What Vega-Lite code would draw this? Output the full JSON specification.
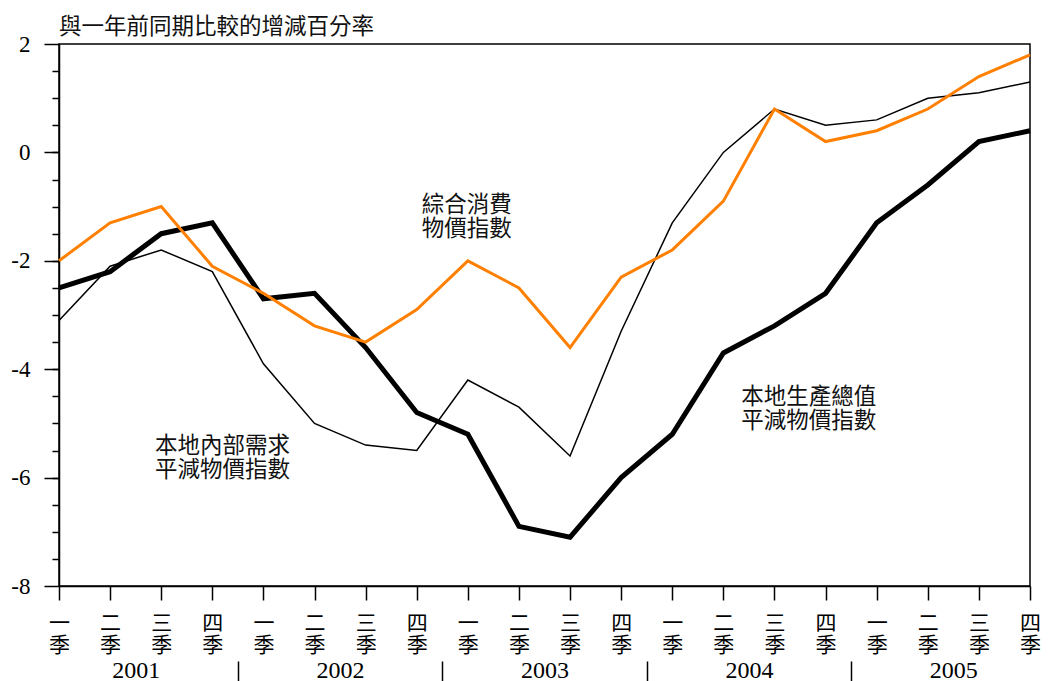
{
  "$schema": "https://vega.github.io/schema/vega-lite/v6.json",
  "width": 971,
  "height": 542,
  "autosize": "none",
  "padding": {"left": 59, "top": 44, "right": 22, "bottom": 95},
  "background": "white",
  "config": {
    "view": {"stroke": "black", "strokeWidth": 1.5},
    "axis": {"grid": false, "title": null, "domainColor": "black", "tickColor": "black", "labelColor": "black", "domainWidth": 1.5, "tickWidth": 1.5}
  },
  "title": {"text": "與一年前同期比較的增減百分率", "anchor": "start", "frame": "group", "font": "Noto Sans CJK TC", "fontSize": 22.5, "fontWeight": "normal", "color": "#111", "offset": -5},
  "datasets": {
    "series": [
      {"q": 0, "s": "domestic", "v": -3.1}, {"q": 1, "s": "domestic", "v": -2.1}, {"q": 2, "s": "domestic", "v": -1.8}, {"q": 3, "s": "domestic", "v": -2.2},
      {"q": 4, "s": "domestic", "v": -3.9}, {"q": 5, "s": "domestic", "v": -5.0}, {"q": 6, "s": "domestic", "v": -5.4}, {"q": 7, "s": "domestic", "v": -5.5},
      {"q": 8, "s": "domestic", "v": -4.2}, {"q": 9, "s": "domestic", "v": -4.7}, {"q": 10, "s": "domestic", "v": -5.6}, {"q": 11, "s": "domestic", "v": -3.3},
      {"q": 12, "s": "domestic", "v": -1.3}, {"q": 13, "s": "domestic", "v": 0.0}, {"q": 14, "s": "domestic", "v": 0.8}, {"q": 15, "s": "domestic", "v": 0.5},
      {"q": 16, "s": "domestic", "v": 0.6}, {"q": 17, "s": "domestic", "v": 1.0}, {"q": 18, "s": "domestic", "v": 1.1}, {"q": 19, "s": "domestic", "v": 1.3},
      {"q": 0, "s": "gdp", "v": -2.5}, {"q": 1, "s": "gdp", "v": -2.2}, {"q": 2, "s": "gdp", "v": -1.5}, {"q": 3, "s": "gdp", "v": -1.3},
      {"q": 4, "s": "gdp", "v": -2.7}, {"q": 5, "s": "gdp", "v": -2.6}, {"q": 6, "s": "gdp", "v": -3.6}, {"q": 7, "s": "gdp", "v": -4.8},
      {"q": 8, "s": "gdp", "v": -5.2}, {"q": 9, "s": "gdp", "v": -6.9}, {"q": 10, "s": "gdp", "v": -7.1}, {"q": 11, "s": "gdp", "v": -6.0},
      {"q": 12, "s": "gdp", "v": -5.2}, {"q": 13, "s": "gdp", "v": -3.7}, {"q": 14, "s": "gdp", "v": -3.2}, {"q": 15, "s": "gdp", "v": -2.6},
      {"q": 16, "s": "gdp", "v": -1.3}, {"q": 17, "s": "gdp", "v": -0.6}, {"q": 18, "s": "gdp", "v": 0.2}, {"q": 19, "s": "gdp", "v": 0.4},
      {"q": 0, "s": "cpi", "v": -2.0}, {"q": 1, "s": "cpi", "v": -1.3}, {"q": 2, "s": "cpi", "v": -1.0}, {"q": 3, "s": "cpi", "v": -2.1},
      {"q": 4, "s": "cpi", "v": -2.6}, {"q": 5, "s": "cpi", "v": -3.2}, {"q": 6, "s": "cpi", "v": -3.5}, {"q": 7, "s": "cpi", "v": -2.9},
      {"q": 8, "s": "cpi", "v": -2.0}, {"q": 9, "s": "cpi", "v": -2.5}, {"q": 10, "s": "cpi", "v": -3.6}, {"q": 11, "s": "cpi", "v": -2.3},
      {"q": 12, "s": "cpi", "v": -1.8}, {"q": 13, "s": "cpi", "v": -0.9}, {"q": 14, "s": "cpi", "v": 0.8}, {"q": 15, "s": "cpi", "v": 0.2},
      {"q": 16, "s": "cpi", "v": 0.4}, {"q": 17, "s": "cpi", "v": 0.8}, {"q": 18, "s": "cpi", "v": 1.4}, {"q": 19, "s": "cpi", "v": 1.8}
    ],
    "labels": [
      {"q": 7.1, "v": -0.965, "t": "綜合消費\n物價指數"},
      {"q": 1.88, "v": -5.41, "t": "本地內部需求\n平減物價指數"},
      {"q": 13.35, "v": -4.51, "t": "本地生產總值\n平減物價指數"}
    ]
  },
  "resolve": {"axis": {"x": "independent", "y": "independent"}},
  "layer": [
    {
      "data": {"name": "series"},
      "transform": [{"filter": "datum.s === 'domestic'"}],
      "mark": {"type": "line", "color": "black", "strokeWidth": 1.5, "strokeJoin": "miter"},
      "encoding": {
        "x": {"field": "q", "type": "quantitative", "scale": {"domain": [0, 19], "nice": false, "zero": false},
              "axis": {"orient": "bottom", "values": [0,1,2,3,4,5,6,7,8,9,10,11,12,13,14,15,16,17,18,19], "tickSize": 14, "labelPadding": 12,
                       "labelExpr": "[['一','二','三','四'][datum.value % 4], '季']", "labelFont": "Noto Sans CJK TC", "labelFontSize": 21,
                       "labelLineHeight": 22, "labelBaseline": "top", "labelAlign": "center", "labelFlush": false, "labelOverlap": false}},
        "y": {"field": "v", "type": "quantitative", "scale": {"domain": [-8, 2], "nice": false, "zero": false},
              "axis": {"orient": "left", "values": [-8, -6, -4, -2, 0, 2], "tickSize": 15, "labelPadding": 14, "labelExpr": "'' + datum.value",
                       "labelFont": "Liberation Serif, Times New Roman, serif", "labelFontSize": 23, "labelBaseline": "middle", "labelFlush": false}}
      }
    },
    {
      "data": {"name": "series"},
      "transform": [{"filter": "datum.s === 'gdp'"}],
      "mark": {"type": "line", "color": "black", "strokeWidth": 5, "strokeJoin": "miter"},
      "encoding": {
        "x": {"field": "q", "type": "quantitative",
              "axis": {"orient": "bottom", "values": [1.5, 5.5, 9.5, 13.5, 17.5], "ticks": false, "tickSize": 0, "domain": false, "labelPadding": 84,
                       "labelExpr": "'' + (2001 + floor(datum.value / 4))", "labelFont": "Liberation Serif, Times New Roman, serif", "labelFontSize": 24,
                       "labelBaseline": "middle", "labelFlush": false, "labelOverlap": false}},
        "y": {"field": "v", "type": "quantitative",
              "axis": {"orient": "left", "values": [-7.5,-7,-6.5,-6,-5.5,-5,-4.5,-4,-3.5,-3,-2.5,-2,-1.5,-1,-0.5,0,0.5,1,1.5], "tickSize": 7, "labels": false, "domain": false}}
      }
    },
    {
      "data": {"name": "series"},
      "transform": [{"filter": "datum.s === 'cpi'"}],
      "mark": {"type": "line", "color": "#FF8000", "strokeWidth": 3, "strokeJoin": "miter"},
      "encoding": {
        "x": {"field": "q", "type": "quantitative",
              "axis": {"orient": "bottom", "values": [3.5, 7.5, 11.5, 15.5], "labels": false, "domain": false, "tickSize": 21, "offset": 75}},
        "y": {"field": "v", "type": "quantitative", "axis": null}
      }
    },
    {
      "mark": {"type": "rule", "color": "black", "strokeWidth": 1.5},
      "encoding": {"y": {"datum": 0, "type": "quantitative", "axis": null}}
    },
    {
      "data": {"name": "labels"},
      "mark": {"type": "text", "align": "left", "baseline": "middle", "font": "Noto Sans CJK TC", "fontSize": 22.5, "lineHeight": 24, "lineBreak": "\n", "color": "#111"},
      "encoding": {
        "x": {"field": "q", "type": "quantitative", "axis": null},
        "y": {"field": "v", "type": "quantitative", "axis": null},
        "text": {"field": "t", "type": "nominal"}
      }
    }
  ]
}
